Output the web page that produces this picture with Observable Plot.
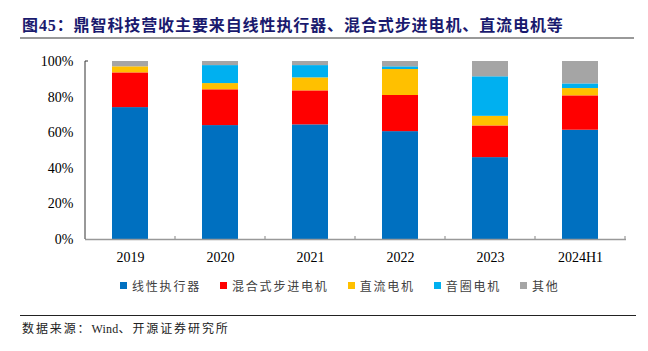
<!DOCTYPE html>
<html>
<head>
<meta charset="utf-8">
<script src="https://cdn.jsdelivr.net/npm/d3@7"></script>
<script src="https://cdn.jsdelivr.net/npm/@observablehq/plot@0.6"></script>
<style>
  html, body { margin: 0; padding: 0; background: #fff; }
  #wrap { position: relative; width: 648px; height: 351px; overflow: hidden; background: #fff; }
  #title { position: absolute; left: 22px; top: 16px; font-family: "Liberation Serif", "Noto Sans CJK SC", serif; font-weight: bold; font-size: 16px; letter-spacing: 0.9px; color: #1a1a6e; white-space: nowrap; line-height: 20px; }
  #tline { position: absolute; left: 20px; top: 37px; width: 614px; height: 2px; background: #999; }
  #chart { position: absolute; left: 0; top: 40px; }
  #legend { position: absolute; left: 120px; top: 277px; display: flex; align-items: center; font-family: "Noto Sans CJK SC", sans-serif; font-size: 12px; letter-spacing: 1.8px; color: #404040; white-space: nowrap; }
  .item { display: flex; align-items: center; margin-right: 19px; }
  .sw { width: 7px; height: 7px; margin-right: 5px; }
  #bline { position: absolute; left: 20px; top: 315px; width: 616px; height: 1px; background: #222; }
  #source { position: absolute; left: 22px; top: 320px; font-family: "Liberation Serif", "Noto Sans CJK SC", serif; font-size: 12px; letter-spacing: 1.9px; color: #222; white-space: nowrap; line-height: 18px; }
</style>
</head>
<body>
<div id="wrap">
  <div id="title"></div>
  <div id="tline"></div>
  <div id="chart"></div>
  <div id="legend"></div>
  <div id="bline"></div>
  <div id="source"></div>
</div>
<script>
const titleText = "图45：鼎智科技营收主要来自线性执行器、混合式步进电机、直流电机等";
const sourceParts = ["数据来源：", "Wind", "、开源证券研究所"];

const years = ["2019", "2020", "2021", "2022", "2023", "2024H1"];
const seriesNames = ["线性执行器", "混合式步进电机", "直流电机", "音圈电机", "其他"];
const seriesColors = ["#0070C0", "#FF0000", "#FFC000", "#00B0F0", "#A5A5A5"];

const linearActuator = [74.1, 64.0, 64.4, 60.6, 46.0, 61.4];
const hybridStepper  = [19.5, 20.1, 19.1, 20.3, 17.8, 19.3];
const dcMotor        = [3.4, 3.5, 7.3, 14.6, 5.4, 4.1];
const voiceCoil      = [0.0, 10.1, 6.9, 1.5, 22.2, 2.6];
const others         = [3.0, 2.3, 2.3, 3.0, 8.6, 12.6];

const yTicks = [0, 20, 40, 60, 80, 100];

const seriesValues = [linearActuator, hybridStepper, dcMotor, voiceCoil, others];
const data = [];
years.forEach((yr, i) => {
  seriesNames.forEach((s, j) => {
    data.push({ year: yr, series: s, value: seriesValues[j][i] });
  });
});

document.getElementById("title").textContent = titleText;
const src = document.getElementById("source");
sourceParts.forEach((p, i) => {
  const sp = document.createElement("span");
  sp.textContent = p;
  if (i === 1) sp.style.letterSpacing = "0.2px";
  src.appendChild(sp);
});

const plot = Plot.plot({
  width: 648,
  height: 240,
  marginLeft: 85,
  marginRight: 22,
  marginTop: 21,
  marginBottom: 41,
  style: { fontFamily: "Liberation Serif", fontSize: "14px", color: "#000", background: "transparent" },
  x: { domain: years, paddingInner: 0.6, paddingOuter: 0.3, label: null, tickSize: 0, tickPadding: 13 },
  y: { domain: [0, 100], ticks: yTicks, tickFormat: d => d + "%", label: null, tickSize: 0, tickPadding: 12 },
  color: { domain: seriesNames, range: seriesColors },
  marks: [
    Plot.barY(data, { x: "year", y: "value", fill: "series", order: seriesNames }),
    Plot.ruleY([0], { stroke: "#999", strokeWidth: 1.5 })
  ]
});
document.getElementById("chart").appendChild(plot);

// Axis lines and category separator ticks from Plot's scales
const xs = plot.scale("x");
const ys = plot.scale("y");
const svg = d3.select(plot);
const y0 = ys.apply(0), y100 = ys.apply(100);
svg.append("line")
  .attr("x1", xs.range[0]).attr("x2", xs.range[0])
  .attr("y1", y100).attr("y2", y0)
  .attr("stroke", "#333").attr("stroke-width", 1);
svg.append("line")
  .attr("x1", xs.range[0]).attr("x2", xs.range[0] + 3)
  .attr("y1", y100).attr("y2", y100)
  .attr("stroke", "#333").attr("stroke-width", 1);
const gap = (xs.step - xs.bandwidth) / 2;
years.forEach(yr => {
  const xb = xs.apply(yr) + xs.bandwidth + gap;
  svg.append("line")
    .attr("x1", xb).attr("x2", xb)
    .attr("y1", y0).attr("y2", y0 - 3)
    .attr("stroke", "#999").attr("stroke-width", 1.2);
});

// Legend
const legend = document.getElementById("legend");
seriesNames.forEach((s, i) => {
  const it = document.createElement("div");
  it.className = "item";
  const sw = document.createElement("div");
  sw.className = "sw";
  sw.style.background = seriesColors[i];
  const tx = document.createElement("span");
  tx.textContent = s;
  it.appendChild(sw);
  it.appendChild(tx);
  legend.appendChild(it);
});
</script>
</body>
</html>
